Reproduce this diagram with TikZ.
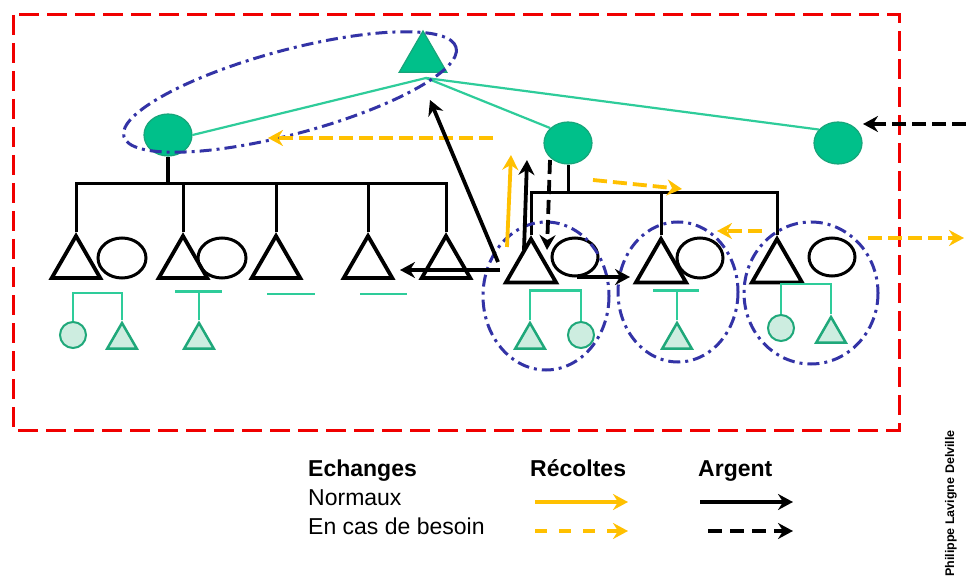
\documentclass[tikz,border=0pt]{standalone}
\usepackage{fontspec}
\setmainfont{Liberation Sans}
\usetikzlibrary{shapes.geometric,arrows.meta,calc}
\definecolor{dkgreen}{HTML}{00C08A}
\definecolor{dkgreenline}{HTML}{17A57A}
\definecolor{mint}{HTML}{CDEDE0}
\definecolor{mintline}{HTML}{1FA87A}
\definecolor{glinec}{HTML}{2ECC9A}
\definecolor{redd}{HTML}{F00000}
\definecolor{bluedd}{HTML}{3333A6}
\definecolor{yel}{HTML}{FFC000}
\begin{document}
\begin{tikzpicture}[x=1pt,y=-1pt,
  tri/.style={regular polygon, regular polygon sides=3, draw=black, line width=3.8pt, minimum size=56pt, inner sep=0pt},
  spouse/.style={ellipse, draw=black, line width=3pt, minimum width=48pt, minimum height=40pt, inner sep=0pt},
  elder/.style={ellipse, fill=dkgreen, draw=dkgreenline, line width=1.2pt, minimum width=48pt, minimum height=42pt, inner sep=0pt},
  chtri/.style={regular polygon, regular polygon sides=3, fill=mint, draw=mintline, line width=2.5pt, minimum size=34pt, inner sep=0pt},
  chcirc/.style={circle, fill=mint, draw=mintline, line width=2pt, minimum size=26pt, inner sep=0pt},
  gline/.style={draw=glinec, line width=2.2pt},
  bline/.style={draw=black, line width=3pt},
  ddot/.style={draw=bluedd, line width=3pt, dash pattern=on 12pt off 5pt on 3pt off 5pt},
  arrtip/.style={-{Stealth[length=15pt,width=16pt,inset=5pt]}},
  yarr/.style={draw=yel, line width=3.8pt, arrtip},
  yarrd/.style={yarr, dash pattern=on 14pt off 6pt},
  barr/.style={draw=black, line width=3.8pt, arrtip},
  barrd/.style={barr, dash pattern=on 14pt off 6pt},
  legtext/.style={anchor=base west, font=\fontsize{23}{27}\selectfont, inner sep=0pt},
  leghead/.style={legtext, font=\bfseries\fontsize{23}{27}\selectfont},
]
\fill[white] (0,0) rectangle (966,585);
\useasboundingbox (0,0) rectangle (966,585);

% red frame
\draw[draw=redd, line width=3pt, dash pattern=on 20pt off 8pt] (13,15) rectangle (899,430);

% elders
\node[elder] (lc) at (168,135) {};
\node[elder] (mc) at (568,143) {};
\node[elder] (rc) at (838,143) {};
\node[tri, fill=dkgreen, draw=dkgreenline, line width=1.2pt, minimum size=55pt] (top) at (423,58.5) {};

% left families
\node[tri] (t1) at (76,264) {};
\node[tri] (t2) at (183,264) {};
\node[tri] (t3) at (276,264) {};
\node[tri] (t4) at (368,264) {};
\node[tri] (t5) at (446,264) {};
\node[spouse] (s1) at (122,258) {};
\node[spouse] (s2) at (222,258) {};

% right families
\node[tri, minimum size=58pt] (r1) at (531,268) {};
\node[tri, minimum size=58pt] (r2) at (661,268) {};
\node[tri, minimum size=58pt] (r3) at (777,268) {};
\node[spouse, minimum width=46pt, minimum height=38pt] (rs1) at (575,257) {};
\node[spouse, minimum width=46pt, minimum height=40pt] (rs2) at (700,258) {};
\node[spouse, minimum width=46pt, minimum height=38pt] (rs3) at (832,257) {};

% children
\node[chcirc] (c1) at (73,335) {};
\node[chtri] (ct1) at (122,340) {};
\node[chtri] (ct2) at (199,340) {};
\node[chtri] (rct1) at (530,340) {};
\node[chcirc] (rcc1) at (581,335) {};
\node[chtri] (rct2) at (677,340) {};
\node[chcirc] (rcc3) at (781,328) {};
\node[chtri] (rct3) at (831,334) {};

% green lines from top
\coordinate (tj) at (426,78);
\draw[gline] (tj) -- (lc.east);
\draw[gline] (tj) -- (mc.140);
\draw[gline] (tj) -- (rc.145);

% green child lines
\draw[gline] (c1.north) -- ++(0,-28) -| (ct1.north);
\draw[gline] (ct2.north) -- ++(0,-29);
\draw[gline] ($(ct2.north)+(-24,-29)$) -- ++(47,0);
\draw[gline] ($(t3.south)+(-9,14)$) -- ++(48,0);
\draw[gline] ($(t4.south)+(-8,14)$) -- ++(47,0);
\draw[gline] (rct1.north) -- ++(0,-30) -| (rcc1.north);
\draw[gline] (rct2.north) -- ++(0,-30);
\draw[gline] ($(rct2.north)+(-24,-30)$) -- ++(46,0);
\draw[gline] (rcc3.north) -- ++(0,-30) -| (rct3.north);

% black trees
\coordinate (bar1) at (168,184);
\draw[bline, line width=4.5pt] (lc.south) -- (bar1);
\draw[bline] (t1.north) |- (bar1) -| (t5.north);
\draw[bline] (t2.north) -- (t2.north |- bar1);
\draw[bline] (t3.north) -- (t3.north |- bar1);
\draw[bline] (t4.north) -- (t4.north |- bar1);
\coordinate (bar2) at (568,193);
\draw[bline] (mc.south) -- (bar2);
\draw[bline] (r1.north) |- (bar2) -| (r3.north);
\draw[bline] (r2.north) -- (r2.north |- bar2);

% blue dash-dot groupings
\draw[ddot, rotate around={15:(290,92)}] (290,92) ellipse (172 and 42);
\draw[ddot] (546,296) ellipse (63 and 74);
\draw[ddot] (678,292) ellipse (60 and 70);
\draw[ddot] (811,293) ellipse (67 and 71);

% arrows
\coordinate (a1s) at (493,138); \coordinate (a1e) at (268,138);
\draw[yarrd] (a1s) -- (a1e);
\coordinate (a2s) at (498,262); \coordinate (a2e) at (430,100);
\draw[barr] (a2s) -- (a2e);
\coordinate (a3s) at (500,270); \coordinate (a3e) at (400,270);
\draw[barr] (a3s) -- (a3e);
\coordinate (a4s) at (507,247); \coordinate (a4e) at (511,155);
\draw[yarr] (a4s) -- (a4e);
\coordinate (a5s) at (524,250); \coordinate (a5e) at (527,160);
\draw[barr] (a5s) -- (a5e);
\coordinate (a6s) at (550,160); \coordinate (a6e) at (547,250);
\draw[barrd] (a6s) -- (a6e);
\coordinate (a7s) at (577,277); \coordinate (a7e) at (630,277);
\draw[barr] (a7s) -- (a7e);
\coordinate (a8s) at (593,180); \coordinate (a8e) at (682,189);
\draw[yarrd] (a8s) -- (a8e);
\coordinate (a9s) at (762,231); \coordinate (a9e) at (717,231);
\draw[yarrd] (a9s) -- (a9e);
\coordinate (a10s) at (868,238); \coordinate (a10e) at (964,238);
\draw[yarrd] (a10s) -- (a10e);
\coordinate (a11s) at (966,124); \coordinate (a11e) at (863,124);
\draw[barrd] (a11s) -- (a11e);

% legend
\node[leghead] (lh1) at (308,476) {Echanges};
\node[leghead] (lh2) at (530,476) {Récoltes};
\node[leghead] (lh3) at (698,476) {Argent};
\node[legtext] (ln1) at (308,505) {Normaux};
\node[legtext] (ln2) at (308,534) {En cas de besoin};
\coordinate (l1s) at (535,502); \coordinate (l1e) at (628,502);
\draw[yarr] (l1s) -- (l1e);
\coordinate (l2s) at (700,502); \coordinate (l2e) at (793,502);
\draw[barr] (l2s) -- (l2e);
\coordinate (l3s) at (535,531); \coordinate (l3e) at (628,531);
\draw[yarr, dash pattern=on 12pt off 12pt] (l3s) -- (l3e);
\coordinate (l4s) at (708,531); \coordinate (l4e) at (793,531);
\draw[barr, dash pattern=on 14pt off 8pt] (l4s) -- (l4e);

% credit
\node[rotate=90, anchor=east, font=\bfseries\fontsize{12.5}{14}\selectfont, inner sep=0pt] (credit) at (951,430) {Philippe Lavigne Delville};
\end{tikzpicture}
\end{document}
